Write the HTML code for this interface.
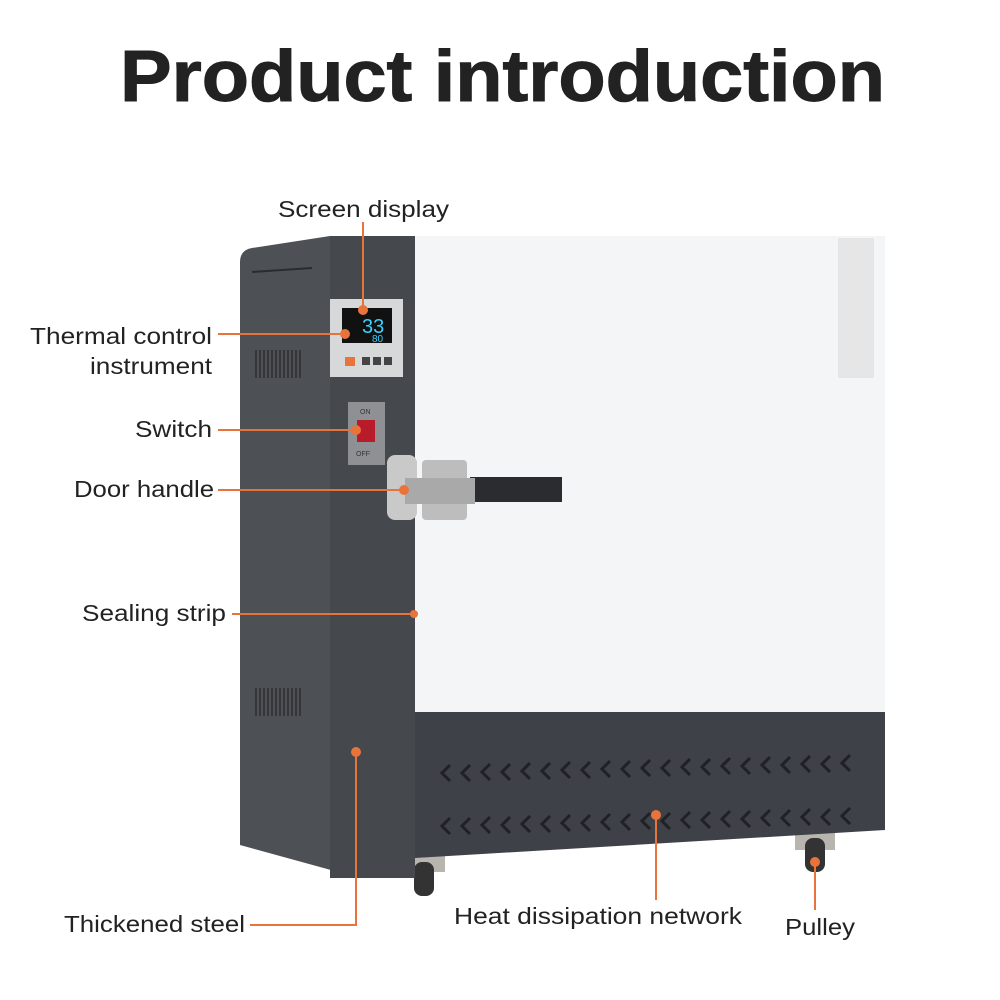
<!DOCTYPE html>
<html><head><meta charset="utf-8"><style>
html,body{margin:0;padding:0;background:#fff}
svg{display:block}
text{font-family:"Liberation Sans",sans-serif;fill:#222}
</style></head><body>
<svg width="1000" height="1000" viewBox="0 0 1000 1000">
<rect width="1000" height="1000" fill="#fff"/>
<text x="120" y="101" font-size="72" font-weight="bold" textLength="765" lengthAdjust="spacingAndGlyphs" fill="#222" stroke="#222" stroke-width="1">Product introduction</text>

<!-- casters -->
<rect x="405" y="850" width="40" height="22" fill="#b8b4ae"/>
<rect x="414" y="862" width="20" height="34" rx="8" fill="#333"/>
<rect x="795" y="828" width="40" height="22" fill="#b8b4ae"/>
<rect x="805" y="838" width="20" height="34" rx="8" fill="#333"/>

<!-- side panel -->
<path d="M240 262 Q240 250 252 248 L330 236 L415 236 L415 878 L360 878 L240 845 Z" fill="#4d5055"/>
<path d="M330 236 L415 236 L415 878 L330 878 Z" fill="#45484d"/>
<line x1="252" y1="272" x2="312" y2="268" stroke="#2a2c30" stroke-width="2"/>
<g stroke="#34363a" stroke-width="2">
<path d="M256 350 l0 28 M260 350 l0 28 M264 350 l0 28 M268 350 l0 28 M272 350 l0 28 M276 350 l0 28 M280 350 l0 28 M284 350 l0 28 M288 350 l0 28 M292 350 l0 28 M296 350 l0 28 M300 350 l0 28"/>
<path d="M256 688 l0 28 M260 688 l0 28 M264 688 l0 28 M268 688 l0 28 M272 688 l0 28 M276 688 l0 28 M280 688 l0 28 M284 688 l0 28 M288 688 l0 28 M292 688 l0 28 M296 688 l0 28 M300 688 l0 28"/>
</g>

<!-- controller -->
<rect x="330" y="299" width="73" height="78" fill="#d6d8da"/>
<rect x="342" y="308" width="50" height="35" fill="#111"/>
<text x="362" y="333" font-size="20" style="fill:#3ad0ff">33</text>
<text x="372" y="342" font-size="10" style="fill:#3ad0ff">80</text>
<rect x="345" y="357" width="10" height="9" fill="#e8743b"/>
<rect x="362" y="357" width="8" height="8" fill="#444"/>
<rect x="373" y="357" width="8" height="8" fill="#444"/>
<rect x="384" y="357" width="8" height="8" fill="#444"/>

<!-- switch -->
<rect x="348" y="402" width="37" height="63" fill="#8e9094"/>
<rect x="357" y="420" width="18" height="22" fill="#b81c2a"/>
<text x="360" y="414" font-size="7" style="fill:#333">ON</text>
<text x="356" y="456" font-size="7" style="fill:#333">OFF</text>

<!-- door -->
<rect x="415" y="236" width="470" height="477" fill="#f4f5f7"/>
<rect x="838" y="238" width="36" height="140" fill="#e6e6e6"/>

<!-- bottom panel -->
<path d="M415 712 L885 712 L885 830 L415 858 Z" fill="#3e4147"/>
<g stroke="#1f2125" stroke-width="3" fill="none">
<path d="M450 765 l-8 8 l8 8 M470 765 l-8 8 l8 8 M490 764 l-8 8 l8 8 M510 764 l-8 8 l8 8 M530 763 l-8 8 l8 8 M550 763 l-8 8 l8 8 M570 762 l-8 8 l8 8 M590 762 l-8 8 l8 8 M610 761 l-8 8 l8 8 M630 761 l-8 8 l8 8 M650 760 l-8 8 l8 8 M670 760 l-8 8 l8 8 M690 759 l-8 8 l8 8 M710 759 l-8 8 l8 8 M730 758 l-8 8 l8 8 M750 758 l-8 8 l8 8 M770 757 l-8 8 l8 8 M790 757 l-8 8 l8 8 M810 756 l-8 8 l8 8 M830 756 l-8 8 l8 8 M850 755 l-8 8 l8 8"/>
<path d="M450 818 l-8 8 l8 8 M470 818 l-8 8 l8 8 M490 817 l-8 8 l8 8 M510 817 l-8 8 l8 8 M530 816 l-8 8 l8 8 M550 816 l-8 8 l8 8 M570 815 l-8 8 l8 8 M590 815 l-8 8 l8 8 M610 814 l-8 8 l8 8 M630 814 l-8 8 l8 8 M650 813 l-8 8 l8 8 M670 813 l-8 8 l8 8 M690 812 l-8 8 l8 8 M710 812 l-8 8 l8 8 M730 811 l-8 8 l8 8 M750 811 l-8 8 l8 8 M770 810 l-8 8 l8 8 M790 810 l-8 8 l8 8 M810 809 l-8 8 l8 8 M830 809 l-8 8 l8 8 M850 808 l-8 8 l8 8"/>
</g>

<!-- hinge & handle -->
<rect x="470" y="477" width="92" height="25" fill="#2b2c2f"/>
<rect x="387" y="455" width="30" height="65" rx="8" fill="#c9c9c9"/>
<rect x="422" y="460" width="45" height="60" rx="4" fill="#bdbdbd"/>
<rect x="405" y="478" width="70" height="26" fill="#a9a9a9"/>

<!-- callouts -->
<g stroke="#e8743b" stroke-width="2" fill="none">
<path d="M363 222 V310"/>
<path d="M218 334 H345"/>
<path d="M218 430 H356"/>
<path d="M218 490 H404"/>
<path d="M232 614 H414"/>
<path d="M250 925 H356 V752"/>
<path d="M656 815 V900"/>
<path d="M815 862 V910"/>
</g>
<g fill="#e8743b">
<circle cx="363" cy="310" r="5"/>
<circle cx="345" cy="334" r="5"/>
<circle cx="356" cy="430" r="5"/>
<circle cx="404" cy="490" r="5"/>
<circle cx="414" cy="614" r="4"/>
<circle cx="356" cy="752" r="5"/>
<circle cx="656" cy="815" r="5"/>
<circle cx="815" cy="862" r="5"/>
</g>
<g font-size="23">
<text x="278" y="217" textLength="171" lengthAdjust="spacingAndGlyphs">Screen display</text>
<text x="30" y="344" textLength="182" lengthAdjust="spacingAndGlyphs">Thermal control</text>
<text x="90" y="374" textLength="122" lengthAdjust="spacingAndGlyphs">instrument</text>
<text x="135" y="437" textLength="77" lengthAdjust="spacingAndGlyphs">Switch</text>
<text x="74" y="497" textLength="140" lengthAdjust="spacingAndGlyphs">Door handle</text>
<text x="82" y="621" textLength="144" lengthAdjust="spacingAndGlyphs">Sealing strip</text>
<text x="64" y="932" textLength="181" lengthAdjust="spacingAndGlyphs">Thickened steel</text>
<text x="454" y="924" textLength="288" lengthAdjust="spacingAndGlyphs">Heat dissipation network</text>
<text x="785" y="935" textLength="70" lengthAdjust="spacingAndGlyphs">Pulley</text>
</g>
</svg>
</body></html>
